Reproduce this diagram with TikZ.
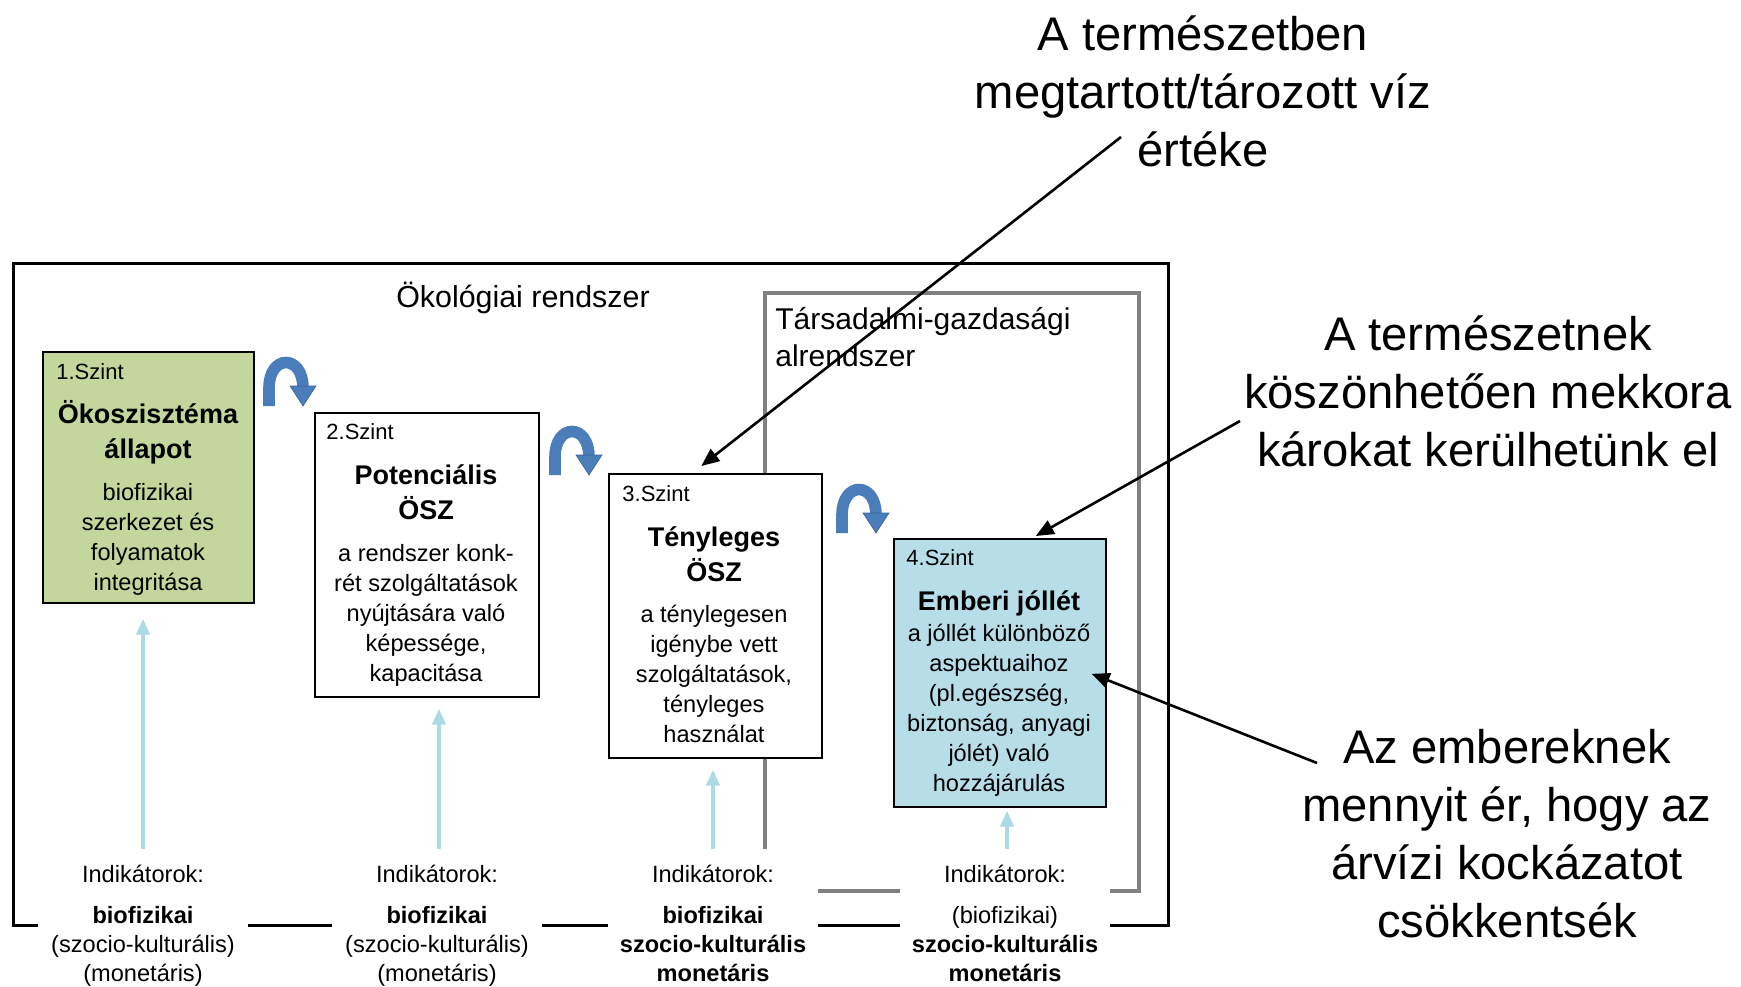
\documentclass[tikz,border=0pt]{standalone}
\usepackage{fontspec}
\setmainfont{Liberation Sans}
\usetikzlibrary{arrows.meta,calc}
\definecolor{boxgreen}{HTML}{C3D69B}
\definecolor{boxblue}{HTML}{B7DEE8}
\definecolor{arrblue}{HTML}{4A7DBA}
\definecolor{arrblued}{HTML}{3A6597}
\definecolor{lblue}{HTML}{ABD9E6}
\definecolor{subgray}{HTML}{808080}
\tikzset{
  levelbox/.style={draw=black, line width=0.8pt, inner sep=0pt, anchor=north west},
  frame/.style={draw, inner sep=0pt, anchor=north west},
  szint/.style={font=\fontsize{11}{13}\selectfont, anchor=west, inner sep=0pt},
  heading/.style={font=\bfseries\fontsize{13.5}{17.5}\selectfont, align=center, anchor=north, inner sep=0pt},
  bodytext/.style={font=\fontsize{11.8}{15}\selectfont, align=center, anchor=north, inner sep=0pt},
  ind/.style={fill=white, anchor=north, text width=105pt, align=center, inner xsep=0pt, inner ysep=7.75pt, font=\fontsize{11.8}{14.5}\selectfont},
  indarrow/.style={draw=lblue, line width=2.2pt, -{Triangle[length=8pt,width=6.5pt]}},
  anno/.style={font=\fontsize{23.6}{29}\selectfont, align=center, anchor=north, inner sep=0pt},
  annoarrow/.style={draw=black, line width=1.3pt, -{Triangle[length=9pt,width=7.5pt]}},
  uarrow/.pic={
    \draw[arrblue, line width=5.8pt] (0,0) -- (0,-18) .. controls (0,-52) and (34,-52) .. (34,-18);
    \fill[arrblue, draw=arrblued, line width=0.3pt] (21,-20) -- (47,-20) -- (34,0) -- cycle;
  }
}
\begin{document}
\begin{tikzpicture}[x=0.5pt,y=-0.5pt]
\useasboundingbox (0,0) rectangle (1741,986);
\fill[white] (0,0) rectangle (1741,986);

% frames
\node[frame, line width=1.5pt, minimum width=577.5pt, minimum height=331pt] (eco) at (12,262) {};
\node[font=\fontsize{15.2}{18}\selectfont, inner sep=0pt] (ecolabel) at (523,298) {Ökológiai rendszer};
\node[frame, draw=subgray, line width=2pt, minimum width=187pt, minimum height=299pt] (soc) at (763,291) {};
\node[font=\fontsize{15}{18.5}\selectfont, align=left, anchor=north west, inner sep=0pt] (soclabel) at (775,303) {\strut Társadalmi-gazdasági\\alrendszer};

% level boxes
\node[levelbox, fill=boxgreen, minimum width=105.5pt, minimum height=125.5pt] (b1) at (42,351) {};
\node[levelbox, fill=white, minimum width=112pt, minimum height=142pt] (b2) at (314,412) {};
\node[levelbox, fill=white, minimum width=106.5pt, minimum height=142pt] (b3) at (608,473) {};
\node[levelbox, fill=boxblue, minimum width=106pt, minimum height=134pt] (b4) at (893,538) {};

% box texts
\node[szint] (b1s) at (56,372) {1.Szint};
\node[heading] (b1h) at (148,399) {\strut Ökoszisztéma\\állapot};
\node[bodytext] (b1b) at (148,479) {\strut biofizikai\\szerkezet és\\folyamatok\\integritása};

\node[szint] (b2s) at (326,432) {2.Szint};
\node[heading] (b2h) at (426,460) {\strut Potenciális\\ÖSZ};
\node[bodytext] (b2b) at (426,540) {\strut a rendszer konk-\\rét szolgáltatások\\nyújtására való\\képessége,\\kapacitása};

\node[szint] (b3s) at (622,494) {3.Szint};
\node[heading] (b3h) at (714,522) {\strut Tényleges\\ÖSZ};
\node[bodytext] (b3b) at (714,601) {\strut a ténylegesen\\igénybe vett\\szolgáltatások,\\tényleges\\használat};

\node[szint] (b4s) at (906,558) {4.Szint};
\node[heading] (b4h) at (999,586) {\strut Emberi jóllét};
\node[bodytext] (b4b) at (999,620) {\strut a jóllét különböző\\aspektuaihoz\\(pl.egészség,\\biztonság, anyagi\\jólét) való\\hozzájárulás};

% curved arrows
\pic (ca1) at (269,406) {uarrow};
\pic (ca2) at (555,475) {uarrow};
\pic (ca3) at (842,533) {uarrow};

% indicators
\node[ind] (i1) at (143,849) {Indikátorok:\\[6pt]\textbf{biofizikai}\\(szocio-kulturális)\\(monetáris)};
\node[ind] (i2) at (437,849) {Indikátorok:\\[6pt]\textbf{biofizikai}\\(szocio-kulturális)\\(monetáris)};
\node[ind] (i3) at (713,849) {Indikátorok:\\[6pt]\textbf{biofizikai}\\\textbf{szocio-kulturális}\\\textbf{monetáris}};
\node[ind] (i4) at (1005,849) {Indikátorok:\\[6pt](biofizikai)\\\textbf{szocio-kulturális}\\\textbf{monetáris}};

\draw[indarrow, shorten >=7.5pt] (i1.north) -- (i1.north |- b1.south);
\draw[indarrow, shorten >=5.5pt] ([xshift=1pt]i2.north) -- ([xshift=1pt]i2.north |- b2.south);
\draw[indarrow, shorten >=5.5pt] (i3.north) -- (i3.north |- b3.south);
\draw[indarrow, shorten >=1.5pt] ([xshift=1pt]i4.north) -- ([xshift=1pt]i4.north |- b4.south);

% annotations
\node[anno] (g1) at (1203,9) {\strut A természetben\\megtartott/tározott víz\\értéke};
\node[anno] (g2) at (1488,309) {\strut A természetnek\\köszönhetően mekkora\\károkat kerülhetünk el};
\node[anno] (g3) at (1507,722) {\strut Az embereknek\\mennyit ér, hogy az\\árvízi kockázatot\\csökkentsék};

\coordinate (a1s) at (1121,137);
\coordinate (a2s) at (1240,421);
\coordinate (a3s) at (1317,763);
\draw[annoarrow] (a1s) -- ($(b3.north)+(-14,-7)$);
\draw[annoarrow] (a2s) -- ($(b4.north)+(36,-2)$);
\draw[annoarrow] (a3s) -- ($(b4.east)+(-15,1)$);
\end{tikzpicture}
\end{document}
